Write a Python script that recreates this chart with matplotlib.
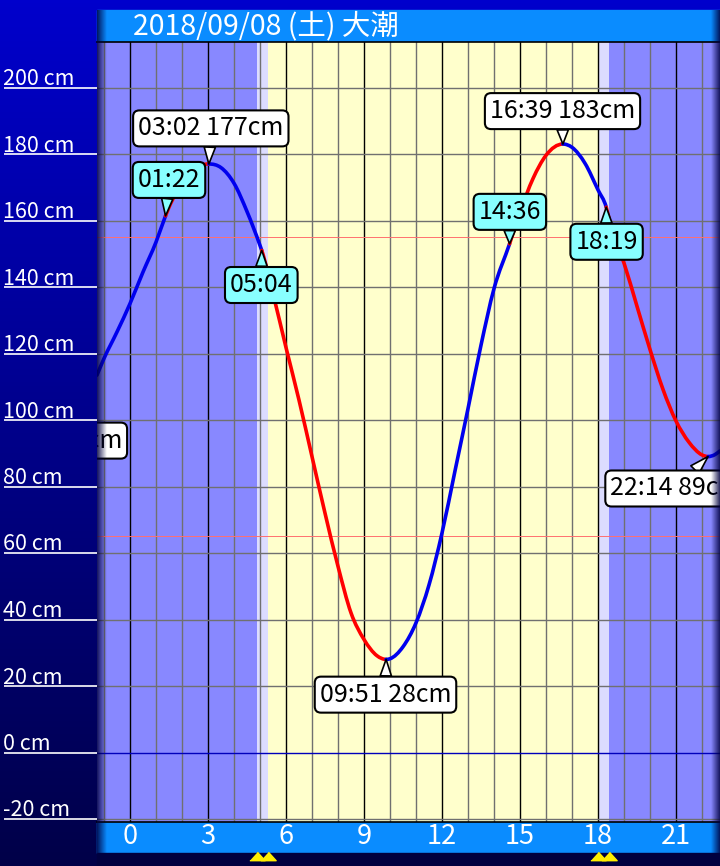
import numpy as np
import matplotlib.pyplot as plt
from matplotlib.patches import Rectangle, PathPatch
from matplotlib.path import Path
from matplotlib.transforms import blended_transform_factory, ScaledTranslation

plt.rcParams['font.family'] = ['Noto Sans CJK JP', 'DejaVu Sans']
plt.rcParams['axes.unicode_minus'] = False

title = '2018/09/08 (土) 大潮'

# tide level (cm), hour of day
hours = [-1.27, -1.0, -0.5, 0.0, 0.5, 1.0, 1.367, 1.5, 2.0, 2.5, 3.033, 3.5, 4.0,
         4.5, 5.0, 5.067, 5.5, 6.0, 6.5, 7.0, 7.5, 8.0, 8.5, 9.0, 9.5, 9.85, 10.0,
         10.5, 11.0, 11.5, 12.0, 12.5, 13.0, 13.5, 14.0, 14.6, 15.0, 15.5, 16.0,
         16.65, 17.0, 17.5, 18.0, 18.317, 18.5, 19.0, 19.5, 20.0, 20.5, 21.0, 21.5,
         22.0, 22.233, 22.5, 22.69]
levels = [113.5, 118.5, 126.5, 135.0, 144.5, 153.5, 161.4, 164.0, 171.0, 175.6, 177.0, 175.9, 171.2,
          162.7, 152.5, 151.0, 138.0, 121.8, 106.0, 89.0, 72.0, 56.0, 42.0, 34.0, 29.1, 28.0, 28.2,
          31.8, 39.0, 50.4, 66.0, 84.7, 103.4, 122.5, 139.5, 153.0, 162.5, 172.6, 179.6,
          183.0, 182.0, 177.2, 169.2, 164.0, 158.0, 147.2, 134.2, 121.2, 109.2, 99.7, 93.3,
          89.5, 89.0, 89.6, 90.7]

red_spans = [(1.367, 3.033), (5.067, 9.85), (14.6, 16.65), (18.317, 22.233)]

extreme_hours = [3.033, 9.85, 16.65, 22.233]
extreme_levels = [177, 28, 183, 89]
extreme_texts = ['03:02 177cm', '09:51 28cm', '16:39 183cm', '22:14 89cm']
extreme_boxes = [(3.108, 187.7), (9.827, 17.4), (16.635, 192.9), (21.0, 79.4)]

mark_hours = [1.367, 5.067, 14.6, 18.317]
mark_texts = ['01:22', '05:04', '14:36', '18:19']
mark_boxes = [(1.5, 172.2), (5.05, 140.6), (14.61, 162.6), (18.33, 153.6)]

prev_text = '21:36 104cm'
prev_box = (-3.1, 93.8)

dawn, sunrise, sunset, dusk = 4.87, 5.32, 18.0, 18.43
ref_levels = [155, 65]
yticks = list(range(-20, 201, 20))
xticks = list(range(0, 22, 3))

W, H = 720, 866
fig = plt.figure(figsize=(7.2, 8.66), dpi=100)

# background panels
bg = fig.add_axes([0, 0, 1, 1], zorder=0)
grad = np.linspace(0, 1, 256)[:, None, None]
top = np.array([0, 0, 0xcc]) / 255
bot = np.array([0, 0, 0x48]) / 255
bg.imshow(top + (bot - top) * grad, extent=[0, W, H, 0], aspect='auto')
bg.add_patch(Rectangle((97, 10), W - 97, 32, color='#0a8cff'))
bg.add_patch(Rectangle((97, 822), W - 97, 31, color='#0a8cff'))
bg.add_patch(Rectangle((97, 853), W - 97, 13, color='#000040'))
bg.set_xlim(0, W)
bg.set_ylim(H, 0)
bg.axis('off')

ax = fig.add_axes([97 / W, 44 / H, 1 - 97 / W, 780 / H], zorder=1)
x0, x1 = -33 / 26, 590 / 26
ax.set_xlim(x0, x1)
ax.set_ylim((752.5 - 822) / 3.325, (752.5 - 42) / 3.325)

ax.axvspan(x0, dawn, color='#8888ff', lw=0, zorder=0)
ax.axvspan(dawn, sunrise, color='#dcdcff', lw=0, zorder=0)
ax.axvspan(sunrise, sunset, color='#ffffcc', lw=0, zorder=0)
ax.axvspan(sunset, dusk, color='#dcdcff', lw=0, zorder=0)
ax.axvspan(dusk, x1, color='#8888ff', lw=0, zorder=0)

for hh in range(-1, 23):
    ax.axvline(hh, color='black' if hh % 3 == 0 else '#707070', lw=1.0, zorder=1)
for v in yticks:
    ax.axhline(v, color='#0000bb' if v == 0 else '#707070', lw=1.0, zorder=1)
for v in ref_levels:
    ax.axhline(v, color='#ff7070', lw=0.7, zorder=1)

# tide curve: smooth cubic pieces through the read points, red / blue
t = np.array(hours)
y = np.array(levels)
slope = np.gradient(y, t)
for xh in extreme_hours:
    slope[np.isclose(t, xh)] = 0.0


def is_red(a, b):
    mid = (a + b) / 2
    return any(s0 <= mid <= s1 for s0, s1 in red_spans)


i = 0
n = len(t)
while i < n - 1:
    red = is_red(t[i], t[i + 1])
    verts = [(t[i], y[i])]
    codes = [Path.MOVETO]
    while i < n - 1 and is_red(t[i], t[i + 1]) == red:
        d = t[i + 1] - t[i]
        verts += [(t[i] + d / 3, y[i] + slope[i] * d / 3),
                  (t[i + 1] - d / 3, y[i + 1] - slope[i + 1] * d / 3),
                  (t[i + 1], y[i + 1])]
        codes += [Path.CURVE4] * 3
        i += 1
    ax.add_patch(PathPatch(Path(verts, codes), fill=False, lw=2.6,
                           ec='#ff0000' if red else '#0000ee',
                           capstyle='round', joinstyle='round', zorder=3))


def callout(text, xy, xytext, fc, clip=False, arrow=True):
    ax.annotate(text, xy=xy, xytext=xytext, ha='center', va='center',
                fontsize=18, color='black', zorder=5,
                bbox=dict(boxstyle='round,pad=0.2,rounding_size=0.25', fc=fc, ec='black', lw=1.5),
                arrowprops=dict(arrowstyle='wedge,tail_width=0.45,shrink_factor=0.5',
                                fc=fc, ec='black', lw=1.2, shrinkA=0, shrinkB=0) if arrow else None,
                annotation_clip=False, clip_on=clip)


for txt, xh, yv, box in zip(extreme_texts, extreme_hours, extreme_levels, extreme_boxes):
    callout(txt, (xh, yv), box, 'white', clip=True)
for txt, xh, box in zip(mark_texts, mark_hours, mark_boxes):
    callout(txt, (xh, np.interp(xh, t, y)), box, '#88ffff')
callout(prev_text, prev_box, prev_box, 'white', clip=True, arrow=False)

ax.set_yticks(yticks)
ax.set_yticklabels([f'{v} cm' for v in yticks])
ax.tick_params(axis='y', length=67, width=1.2, color='white', pad=0.5,
               labelsize=15.5, labelcolor='white', direction='out')
lift = ScaledTranslation(0, 2.5 / 100, fig.dpi_scale_trans)
for lab in ax.get_yticklabels():
    lab.set_horizontalalignment('left')
    lab.set_verticalalignment('baseline')
    lab.set_transform(lab.get_transform() + lift)

ax.set_xticks(xticks)
ax.tick_params(axis='x', length=0, pad=1, labelsize=19.5, labelcolor='white')

for s in ['left', 'right']:
    ax.spines[s].set_visible(False)
for s in ['top', 'bottom']:
    ax.spines[s].set_color('black')
    ax.spines[s].set_linewidth(1.2)

# sunrise / sunset markers
tr = blended_transform_factory(ax.transData, ax.transAxes)
ax.plot([dawn, sunrise, sunset, dusk], [-0.0436] * 4, transform=tr, ls='none',
        marker=[(-1, -0.55), (1, -0.55), (0, 0.55)], ms=11, color='#ffee00', clip_on=False)

fig.text(133 / W, 1 - 26 / H, title, color='white', fontsize=20.5, ha='left', va='center')

# edge shadows
fg = fig.add_axes([0, 0, 1, 1], zorder=10)
sh = np.zeros((1, 64, 4))
sh[..., 2] = 0.25
sh[..., 3] = np.linspace(0.85, 0, 64)
fg.imshow(sh, extent=[97, 107, 853, 10], aspect='auto')
fg.imshow(sh[:, ::-1], extent=[711, 720, 853, 10], aspect='auto')
fg.set_xlim(0, W)
fg.set_ylim(H, 0)
fg.axis('off')

fig.savefig('out.png', dpi=100)
